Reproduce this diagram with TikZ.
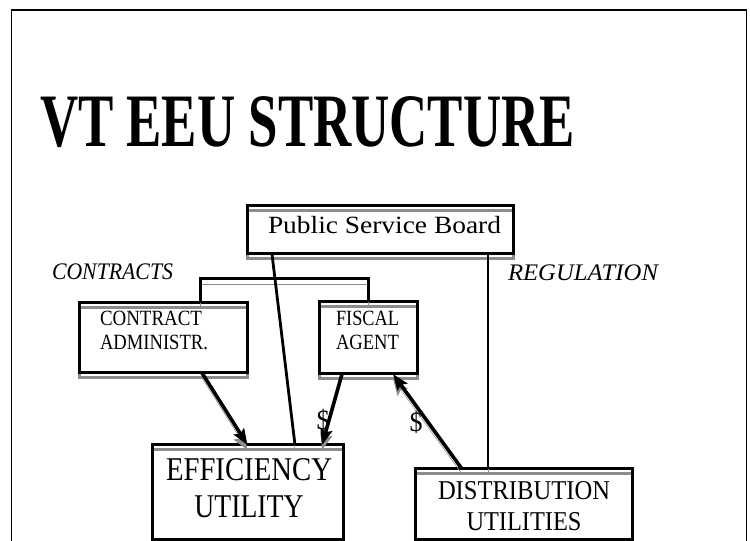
\documentclass[tikz,border=0pt]{standalone}
\usepackage{fontspec}
\setmainfont{Liberation Serif}
\usetikzlibrary{arrows.meta}
\newlength\px
\setlength\px{0.75pt}
% squeeze or widen a piece of text to a given width in px, keeping its height
\newcommand\fitw[2]{\resizebox{#1\px}{\height}{#2}}
\definecolor{shadowgray}{gray}{0.55}
\begin{document}
\begin{tikzpicture}[x=0.75pt, y=-0.75pt,
  shadowed/.style={preaction={draw=shadowgray, transform canvas={shift={(0,5)}}}},
  box/.style={draw, line width=2.25pt, inner sep=0pt, outer sep=0pt, shadowed},
  label/.style={inner sep=0pt, outer sep=0pt},
  thinlink/.style={line width=2.1pt, shadowed},
  bracket/.style={line width=2.25pt, shadowed},
  flow/.style={line width=2.7pt, shadowed, -{Stealth[length=12pt, width=9pt, inset=2pt]}},
]
\useasboundingbox (0,0) rectangle (750,541);

% slide frame
\draw[line width=1.3pt] (11.5,560) -- (11.5,10) -- (746.5,10) -- (746.5,560);

% heading
\node[label, anchor=base west] (title) at (40,147)
  {\fontsize{56.6}{60}\selectfont\bfseries\fitw{535}{VT EEU STRUCTURE}};

% boxes
\node[box, minimum width=199.5pt, minimum height=36pt]   (psb) at (380,230) {};
\node[box, minimum width=126pt,   minimum height=52.5pt] (ca)  at (163,338) {};
\node[box, minimum width=73.5pt,  minimum height=54pt]   (fa)  at (368,338) {};
\node[box, minimum width=143.25pt,minimum height=70.5pt] (eu)  at (247.5,492) {};
\node[box, minimum width=162.75pt,minimum height=52.5pt] (du)  at (523.5,504) {};

% box texts
\node[label, anchor=base] (psbtext) at (384.5,234)
  {\fontsize{18.6}{22}\selectfont\fitw{233}{Public Service Board}};
\node[label, anchor=base west] (catext) at (100,326)
  {\fontsize{16.3}{18}\selectfont\begin{tabular}[t]{@{}l@{}}\fitw{102}{CONTRACT}\\\fitw{108}{ADMINISTR.}\end{tabular}};
\node[label, anchor=base] (fatext) at (367.5,326)
  {\fontsize{16.3}{18}\selectfont\begin{tabular}[t]{@{}c@{}}\fitw{63}{FISCAL}\\\fitw{63}{AGENT}\end{tabular}};
\node[label, anchor=base] (eutext) at (249,480)
  {\fontsize{24.9}{27.75}\selectfont\begin{tabular}[t]{@{}c@{}}\fitw{166}{EFFICIENCY}\\\fitw{109}{UTILITY}\end{tabular}};
\node[label, anchor=base] (dutext) at (524,499)
  {\fontsize{20.4}{23.25}\selectfont\begin{tabular}[t]{@{}c@{}}\fitw{172}{DISTRIBUTION}\\\fitw{115}{UTILITIES}\end{tabular}};

% side captions
\node[label, anchor=base west] (contracts) at (52,280)
  {\fontsize{17.8}{21}\selectfont\itshape\fitw{121}{CONTRACTS}};
\node[label, anchor=base west] (regulation) at (508,281)
  {\fontsize{17.8}{21}\selectfont\itshape\fitw{150}{REGULATION}};

% contract bracket from the board's contractors
\draw[bracket] ([shift={(37,0)}]ca.north) -- ++(0,-24) -| (fa.north);

% oversight lines from the board
\draw[thinlink] ([shift={(-108,0)}]psb.south) -- ([shift={(47.5,0)}]eu.north);
\draw[thinlink] ([shift={(108,0)}]psb.south) coordinate (reg) -- (reg |- du.north);

% money and contract flows
\draw[flow] ([shift={(39,0)}]ca.south) -- (eu.north);
\draw[flow] ([shift={(-26,0)}]fa.south) -- ([shift={(74.5,0)}]eu.north);
\draw[flow] ([shift={(-61.5,0)}]du.north) -- ([shift={(25,0)}]fa.south);

% dollar marks
\node[label] (d1) at (323,420) {\fontsize{21}{24}\selectfont\fitw{13}{\$}};
\node[label] (d2) at (416,422) {\fontsize{21}{24}\selectfont\fitw{13}{\$}};
\end{tikzpicture}
\end{document}
